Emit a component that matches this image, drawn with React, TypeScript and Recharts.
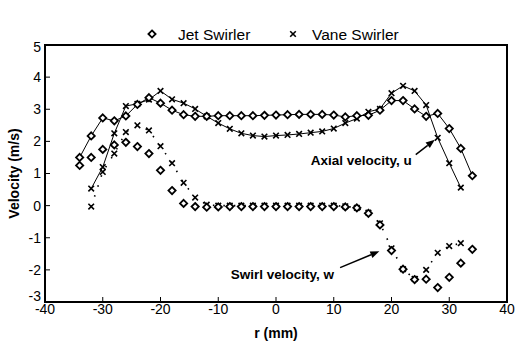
import React from "react";
import { LineChart, Line, XAxis, YAxis, ReferenceArea, ReferenceLine, Legend } from "recharts";

// radial positions (mm)
const rJet = [-34, -32, -30, -28, -26, -24, -22, -20, -18, -16, -14, -12, -10, -8, -6, -4, -2, 0, 2, 4, 6, 8, 10, 12, 14, 16, 18, 20, 22, 24, 26, 28, 30, 32, 34];
const rVane = [-32, -30, -28, -26, -24, -22, -20, -18, -16, -14, -12, -10, -8, -6, -4, -2, 0, 2, 4, 6, 8, 10, 12, 14, 16, 18, 20, 22, 24, 26, 28, 30, 32];

// axial velocity u (m/s)
const jetAxial = [1.5, 2.17, 2.73, 2.64, 2.79, 3.15, 3.36, 3.19, 2.97, 2.83, 2.78, 2.78, 2.8, 2.8, 2.8, 2.8, 2.81, 2.82, 2.83, 2.84, 2.84, 2.84, 2.82, 2.76, 2.8, 2.81, 2.97, 3.27, 3.27, 3.01, 2.78, 2.87, 2.4, 1.78, 0.93];
const vaneAxial = [0.53, 1.2, 2.25, 3.1, 3.17, 3.3, 3.57, 3.31, 3.19, 3.01, 2.78, 2.57, 2.39, 2.25, 2.18, 2.15, 2.18, 2.2, 2.23, 2.27, 2.31, 2.4, 2.57, 2.71, 2.92, 3.01, 3.5, 3.73, 3.57, 3.13, 2.11, 1.32, 0.56];

// swirl velocity w (m/s)
const jetSwirl = [1.25, 1.5, 1.75, 1.89, 1.97, 1.84, 1.62, 1.1, 0.47, 0.07, -0.03, -0.05, -0.04, -0.03, -0.03, -0.03, -0.03, -0.03, -0.03, -0.03, -0.03, -0.03, -0.03, -0.04, -0.07, -0.24, -0.6, -1.4, -1.98, -2.3, -2.29, -2.55, -2.23, -1.79, -1.36];
const vaneSwirl = [-0.03, 1.05, 1.62, 2.29, 2.5, 2.34, 1.85, 1.32, 0.71, 0.25, 0.03, 0, 0, 0, 0, 0, 0, 0, 0, 0, 0, 0, -0.02, -0.07, -0.22, -0.55, -1.33, -1.98, -2.28, -2.0, -1.47, -1.26, -1.17];

const xTicks = [-40, -30, -20, -10, 0, 10, 20, 30, 40];
const yTicks = [-3, -2, -1, 0, 1, 2, 3, 4, 5];

const jetAxialData = rJet.map((r, i) => ({ r, v: jetAxial[i] }));
const vaneAxialData = rVane.map((r, i) => ({ r, v: vaneAxial[i] }));
const jetSwirlData = rJet.map((r, i) => ({ r, v: jetSwirl[i] }));
const vaneSwirlData = rVane.map((r, i) => ({ r, v: vaneSwirl[i] }));

const FONT = "'Liberation Sans', Arial, sans-serif";

function Diamond({ cx, cy }: any) {
  if (cx == null || cy == null) return null;
  const s = 3.6;
  return (
    <path
      d={`M${cx},${cy - s}L${cx + s},${cy}L${cx},${cy + s}L${cx - s},${cy}Z`}
      fill="#fff"
      stroke="#000"
      strokeWidth={1.8}
    />
  );
}

function Cross({ cx, cy }: any) {
  if (cx == null || cy == null) return null;
  const s = 2.8;
  return (
    <path
      d={`M${cx - s},${cy - s}L${cx + s},${cy + s}M${cx + s},${cy - s}L${cx - s},${cy + s}`}
      stroke="#000"
      strokeWidth={1.6}
      fill="none"
    />
  );
}

const diamondDot = (p: any) => <Diamond key={`d${p.index}`} cx={p.cx} cy={p.cy} />;
const crossDot = (p: any) => <Cross key={`c${p.index}`} cx={p.cx} cy={p.cy} />;

// y tick labels: the end labels are nudged inward like the original
function YTick({ x, y, payload }: any) {
  const v = payload.value;
  const shift = v === -3 ? -6 : v === 5 ? 2 : 0;
  return (
    <text x={x} y={y + shift} dy="0.355em" textAnchor="end" fontFamily={FONT} fontSize={14} fill="#000">
      {v}
    </text>
  );
}

function arrowShape(text: string, textDx: number, textDy: number, anchor: string) {
  return (props: any) => {
    const { x1, y1, x2, y2 } = props;
    if (x1 == null) return null;
    const ang = Math.atan2(y2 - y1, x2 - x1);
    const len = 9;
    const w = 3.5;
    const bx = x2 - len * Math.cos(ang);
    const by = y2 - len * Math.sin(ang);
    const px = -Math.sin(ang) * w;
    const py = Math.cos(ang) * w;
    return (
      <g>
        <line x1={x1} y1={y1} x2={bx} y2={by} stroke="#000" strokeWidth={1.5} />
        <polygon points={`${x2},${y2} ${bx + px},${by + py} ${bx - px},${by - py}`} fill="#000" />
        <text
          x={x1 + textDx}
          y={y1 + textDy}
          textAnchor={anchor}
          fontFamily={FONT}
          fontWeight="bold"
          fontSize={13.5}
          fill="#000"
        >
          {text}
        </text>
      </g>
    );
  };
}

function LegendContent() {
  return (
    <svg width={515} height={30} style={{ display: "block" }}>
      <Diamond cx={152} cy={15} />
      <text x={178} y={20.5} fontFamily={FONT} fontSize={15.5} fill="#000">
        Jet Swirler
      </text>
      <Cross cx={293} cy={15} />
      <text x={312} y={20.5} fontFamily={FONT} fontSize={15.5} fill="#000">
        Vane Swirler
      </text>
    </svg>
  );
}

export default function App() {
  return (
    <div style={{ position: "absolute", left: 0, top: 0, background: "#fff" }}>
      <LineChart width={515} height={345} margin={{ top: 15, right: 8, bottom: 0, left: 0 }}>
        <XAxis
          type="number"
          dataKey="r"
          domain={[-40, 40]}
          ticks={xTicks}
          allowDuplicatedCategory={false}
          height={43}
          tickSize={-5}
          tickMargin={7}
          axisLine={{ stroke: "#000", strokeWidth: 2 }}
          tickLine={{ stroke: "#000", strokeWidth: 1 }}
          tick={{ fill: "#000", fontSize: 14, fontFamily: FONT }}
          label={{
            content: ({ viewBox }: any) => (
              <text
                x={viewBox.x + viewBox.width / 2}
                y={338}
                textAnchor="middle"
                fontFamily={FONT}
                fontWeight="bold"
                fontSize={14}
                fill="#000"
              >
                r (mm)
              </text>
            ),
          }}
        />
        <YAxis
          type="number"
          dataKey="v"
          domain={[-3, 5]}
          ticks={yTicks}
          width={45}
          tickSize={-5}
          tickMargin={9}
          axisLine={{ stroke: "#000", strokeWidth: 2 }}
          tickLine={{ stroke: "#000", strokeWidth: 1 }}
          tick={<YTick />}
          label={{
            content: ({ viewBox }: any) => {
              const cy = viewBox.y + viewBox.height / 2;
              return (
                <text
                  x={19}
                  y={cy}
                  transform={`rotate(-90 19 ${cy})`}
                  textAnchor="middle"
                  fontFamily={FONT}
                  fontWeight="bold"
                  fontSize={14}
                  fill="#000"
                >
                  Velocity (m/s)
                </text>
              );
            },
          }}
        />
        <ReferenceArea x1={-40} x2={40} y1={-3} y2={5} fill="none" stroke="#000" strokeWidth={2} ifOverflow="visible" />
        <Legend verticalAlign="top" align="left" content={LegendContent} wrapperStyle={{ top: 19, left: 0, width: 515 }} />
        <Line
          data={vaneSwirlData}
          dataKey="v"
          name="Vane swirl"
          stroke="#000"
          strokeWidth={1.6}
          strokeDasharray="1.5 9"
          dot={crossDot}
          activeDot={false}
          legendType="none"
          isAnimationActive={false}
        />
        <Line
          data={jetSwirlData}
          dataKey="v"
          name="Jet swirl"
          stroke="none"
          dot={diamondDot}
          activeDot={false}
          legendType="none"
          isAnimationActive={false}
        />
        <Line
          data={vaneAxialData}
          dataKey="v"
          name="Vane Swirler"
          stroke="#000"
          strokeWidth={1}
          dot={crossDot}
          activeDot={false}
          isAnimationActive={false}
        />
        <Line
          data={jetAxialData}
          dataKey="v"
          name="Jet Swirler"
          stroke="#000"
          strokeWidth={1}
          dot={diamondDot}
          activeDot={false}
          isAnimationActive={false}
        />
        <ReferenceLine
          segment={[{ x: 24.2, y: 1.59 }, { x: 27.5, y: 2.05 }]}
          ifOverflow="visible"
          shape={arrowShape("Axial velocity, u", -4, 10, "end")}
        />
        <ReferenceLine
          segment={[{ x: 11.1, y: -1.93 }, { x: 17.9, y: -1.42 }]}
          ifOverflow="visible"
          shape={arrowShape("Swirl velocity, w", -6, 11, "end")}
        />
      </LineChart>
    </div>
  );
}
